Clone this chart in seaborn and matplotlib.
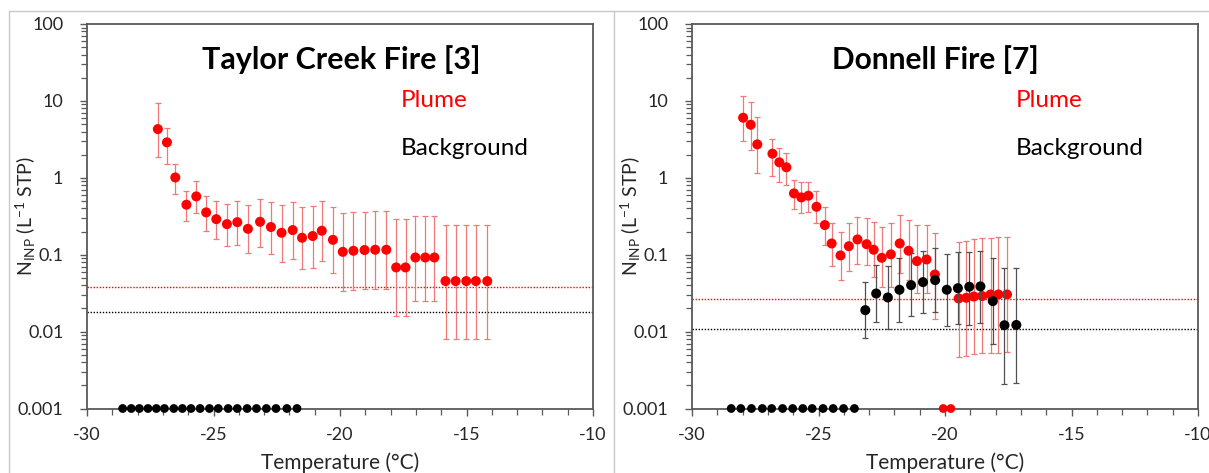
import numpy as np
import pandas as pd
import matplotlib
matplotlib.use("Agg")
import matplotlib.pyplot as plt
from matplotlib.ticker import MultipleLocator, LogLocator, NullFormatter, FixedLocator
from matplotlib.lines import Line2D
import seaborn as sns

# ---------------- data ----------------
tc_plume_T = [-27.2, -26.84, -26.51, -26.07, -25.68, -25.29, -24.89, -24.47, -24.06, -23.64,
              -23.16, -22.73, -22.31, -21.87, -21.50, -21.08, -20.72, -20.28, -19.89, -19.47,
              -19.03, -18.61, -18.17, -17.78, -17.41, -17.02, -16.63, -16.27, -15.83, -15.43,
              -15.01, -14.63, -14.18]
tc_plume_N = [4.3, 2.89, 1.01, 0.447, 0.573, 0.355, 0.29, 0.25, 0.265, 0.217,
              0.268, 0.229, 0.193, 0.209, 0.166, 0.175, 0.205, 0.156, 0.109, 0.1125,
              0.115, 0.116, 0.116, 0.0683, 0.0683, 0.092, 0.092, 0.092, 0.0454, 0.0454,
              0.0454, 0.0454, 0.0454]
tc_plume_hi = [9.3, 4.5, 1.51, 0.68, 0.908, 0.578, 0.493, 0.455, 0.493, 0.438,
               0.534, 0.479, 0.438, 0.479, 0.412, 0.433, 0.493, 0.412, 0.344, 0.355,
               0.36, 0.365, 0.365, 0.288, 0.288, 0.321, 0.321, 0.321, 0.245, 0.245,
               0.245, 0.245, 0.245]
tc_plume_lo = [1.88, 1.51, 0.614, 0.271, 0.344, 0.205, 0.16, 0.129, 0.132, 0.104,
               0.127, 0.102, 0.081, 0.0885, 0.0643, 0.0676, 0.0826, 0.057, 0.0336, 0.0347,
               0.0355, 0.036, 0.036, 0.0159, 0.0159, 0.0249, 0.0249, 0.0249, 0.0079, 0.0079,
               0.0079, 0.0079, 0.0079]
tc_bg_zero_T = [-28.59, -28.25, -27.93, -27.59, -27.26, -26.94, -26.57, -26.23, -25.89, -25.53,
                -25.16, -24.81, -24.42, -24.06, -23.67, -23.30, -22.91, -22.53, -22.10, -21.70]
tc_plume_limit = 0.0383
tc_bg_limit = 0.0181

dn_plume_T = [-27.98, -27.68, -27.42, -26.82, -26.55, -26.27, -25.97, -25.68, -25.40, -25.08,
              -24.75, -24.48, -24.13, -23.80, -23.46, -23.10, -22.82, -22.50, -22.14, -21.79,
              -21.44, -21.11, -20.73, -20.40, -19.46, -19.16, -18.86, -18.53, -18.20, -17.89,
              -17.55]
dn_plume_N = [6.04, 4.9, 2.72, 2.06, 1.59, 1.37, 0.627, 0.556, 0.585, 0.42,
              0.243, 0.140, 0.0978, 0.129, 0.158, 0.137, 0.116, 0.0912, 0.101, 0.14,
              0.1125, 0.0826, 0.0867, 0.0553, 0.027, 0.0275, 0.0286, 0.029, 0.0304, 0.0304,
              0.0304]
dn_plume_hi = [11.6, 9.7, 6.1, 3.16, 2.41, 2.08, 0.935, 0.871, 0.89, 0.672,
               0.412, 0.255, 0.195, 0.26, 0.311, 0.296, 0.268, 0.226, 0.255, 0.327,
               0.282, 0.243, 0.243, 0.193, 0.147, 0.152, 0.158, 0.164, 0.166, 0.17,
               0.168]
dn_plume_lo = [3.0, 2.32, 1.14, 1.06, 0.889, 0.797, 0.388, 0.344, 0.355, 0.255,
               0.133, 0.0718, 0.0467, 0.0612, 0.0747, 0.0733, 0.0516, 0.0383, 0.0383, 0.057,
               0.0467, 0.0313, 0.0313, 0.0148, 0.0047, 0.0048, 0.0051, 0.0052, 0.0053, 0.0053,
               0.0054]
dn_plume_zero_T = [-20.07, -19.77]
dn_bg_T = [-23.15, -22.72, -22.26, -21.80, -21.34, -20.87, -20.39, -19.93, -19.49, -19.04,
           -18.60, -18.11, -17.65, -17.18]
dn_bg_N = [0.019, 0.0313, 0.0278, 0.035, 0.0402, 0.044, 0.0467, 0.035, 0.0367, 0.0383,
           0.0387, 0.0249, 0.0121, 0.0122]
dn_bg_hi = [0.0445, 0.0729, 0.072, 0.0894, 0.104, 0.1125, 0.121, 0.102, 0.107, 0.108,
            0.1125, 0.0912, 0.0676, 0.068]
dn_bg_lo = [0.00815, 0.0134, 0.0107, 0.0134, 0.0159, 0.0172, 0.0181, 0.0118, 0.0124, 0.0122,
            0.0128, 0.0068, 0.00211, 0.00214]
dn_bg_zero_T = [-28.45, -28.07, -27.65, -27.22, -26.85, -26.42, -26.02, -25.62, -25.25, -24.82,
                -24.42, -24.01, -23.58]
dn_plume_limit = 0.0264
dn_bg_limit = 0.0107

titles = ["Taylor Creek Fire [3]", "Donnell Fire [7]"]
x_ticks = [-30, -25, -20, -15, -10]
x_ticklabels = ["-30", "-25", "-20", "-15", "-10"]
y_ticks = [0.001, 0.01, 0.1, 1, 10, 100]
y_ticklabels = ["0.001", "0.01", "0.1", "1", "10", "100"]
ZERO = 0.001

# ---------------- style ----------------
sns.set_theme(style="white")
FONT = ["Lato", "DejaVu Sans"]
plt.rcParams["font.family"] = FONT
plt.rcParams["mathtext.fontset"] = "custom"
plt.rcParams["mathtext.rm"] = "Lato"
plt.rcParams["mathtext.it"] = "Lato:italic"
plt.rcParams["mathtext.bf"] = "Lato:bold"

RED = "#ff0000"
RED_ERR = "#f07878"
BLK = "#000000"
BLK_ERR = "#505050"
AX_COL = "#595959"
TXT = "#262626"

fig = plt.figure(figsize=(12.09, 4.73), dpi=100)
W, H = 1209, 473

# panel frames (light gray)
frame_col = "#c8c8c8"
fig.add_artist(Line2D([9 / W, 9 / W], [0, 1 - 11 / H], color=frame_col, lw=1))
fig.add_artist(Line2D([9 / W, 1.0], [1 - 11 / H, 1 - 11 / H], color=frame_col, lw=1))
fig.add_artist(Line2D([614 / W, 614 / W], [0, 1 - 11 / H], color=frame_col, lw=1))

ax_w = 506 / W
ax_b = 1 - 408.5 / H
ax_h = (408.5 - 24) / H
ax1 = fig.add_axes([87 / W, ax_b, ax_w, ax_h])
ax2 = fig.add_axes([692 / W, ax_b, ax_w, ax_h])


def draw_series(ax, T, N, lo, hi, color, ecolor, z):
    df = pd.DataFrame({"T": T, "N": N, "lo": lo, "hi": hi})
    yerr = np.vstack([df["N"] - df["lo"], df["hi"] - df["N"]])
    ax.errorbar(df["T"], df["N"], yerr=yerr, fmt="none", ecolor=ecolor,
                elinewidth=0.9, capsize=2.2, capthick=0.9, zorder=z)
    sns.scatterplot(data=df, x="T", y="N", ax=ax, color=color, s=52,
                    edgecolor="none", zorder=z + 1, legend=False)


def draw_zero(ax, T, color, z):
    df = pd.DataFrame({"T": T, "N": [ZERO] * len(T)})
    sns.scatterplot(data=df, x="T", y="N", ax=ax, color=color, s=40,
                    edgecolor="none", zorder=z, legend=False, clip_on=False)


# Taylor Creek
ax1.axhline(tc_plume_limit, color=RED, ls=(0, (1, 1.2)), lw=1.0, zorder=1)
ax1.axhline(tc_bg_limit, color=BLK, ls=(0, (1, 1.2)), lw=1.0, zorder=1)
draw_series(ax1, tc_plume_T, tc_plume_N, tc_plume_lo, tc_plume_hi, RED, RED_ERR, 3)
draw_zero(ax1, tc_bg_zero_T, BLK, 6)

# Donnell
ax2.axhline(dn_plume_limit, color=RED, ls=(0, (1, 1.2)), lw=1.0, zorder=1)
ax2.axhline(dn_bg_limit, color=BLK, ls=(0, (1, 1.2)), lw=1.0, zorder=1)
draw_series(ax2, dn_plume_T, dn_plume_N, dn_plume_lo, dn_plume_hi, RED, RED_ERR, 3)
draw_series(ax2, dn_bg_T, dn_bg_N, dn_bg_lo, dn_bg_hi, BLK, BLK_ERR, 5)
draw_zero(ax2, dn_bg_zero_T, BLK, 7)
draw_zero(ax2, dn_plume_zero_T, RED, 7)

for ax, title in zip([ax1, ax2], titles):
    ax.set_yscale("log")
    ax.xaxis.set_major_locator(FixedLocator(x_ticks))
    ax.xaxis.set_minor_locator(MultipleLocator(1))
    ax.set_xticklabels(x_ticklabels)
    ax.yaxis.set_major_locator(FixedLocator(y_ticks))
    ax.yaxis.set_minor_locator(LogLocator(base=10, subs=np.arange(2, 10)))
    ax.yaxis.set_minor_formatter(NullFormatter())
    ax.set_yticklabels(y_ticklabels)
    ax.set_xlim(-30, -10)
    ax.set_ylim(0.001, 100)
    for s in ax.spines.values():
        s.set_color(AX_COL)
        s.set_linewidth(1.3)
        s.set_visible(True)
    ax.tick_params(axis="both", which="major", direction="out", length=5, width=1,
                   color=AX_COL, labelsize=13, labelcolor=TXT, bottom=True, left=True)
    ax.tick_params(axis="x", which="major", pad=8)
    ax.tick_params(axis="y", which="major", pad=12)
    ax.tick_params(axis="both", which="minor", direction="out", length=4, width=0.9,
                   color=AX_COL, bottom=True, left=True)
    ax.set_xlabel("Temperature (°C)", fontsize=15, color=TXT, labelpad=7)
    ax.set_ylabel(r"N$_{\mathregular{INP}}$ (L$^{\mathregular{-1}}$ STP)", fontsize=14,
                  color=TXT, va="center")
    ax.yaxis.set_label_coords(-61 / 506, 0.5)
    ax.grid(False)
    ax.set_facecolor("white")

ax1.text(0.502, 0.908, titles[0], transform=ax1.transAxes, ha="center", va="center",
         fontsize=22, fontweight="bold", color="black")
ax2.text(0.48, 0.908, titles[1], transform=ax2.transAxes, ha="center", va="center",
         fontsize=21.5, fontweight="bold", color="black")
for ax, xl in [(ax1, 0.62), (ax2, 0.64)]:
    ax.text(xl, 0.80, "Plume", transform=ax.transAxes, ha="left", va="center",
            fontsize=17.5, color=RED)
    ax.text(xl, 0.677, "Background", transform=ax.transAxes, ha="left", va="center",
            fontsize=17.5, color="black")

fig.savefig("out.png", dpi=100, facecolor="white")
